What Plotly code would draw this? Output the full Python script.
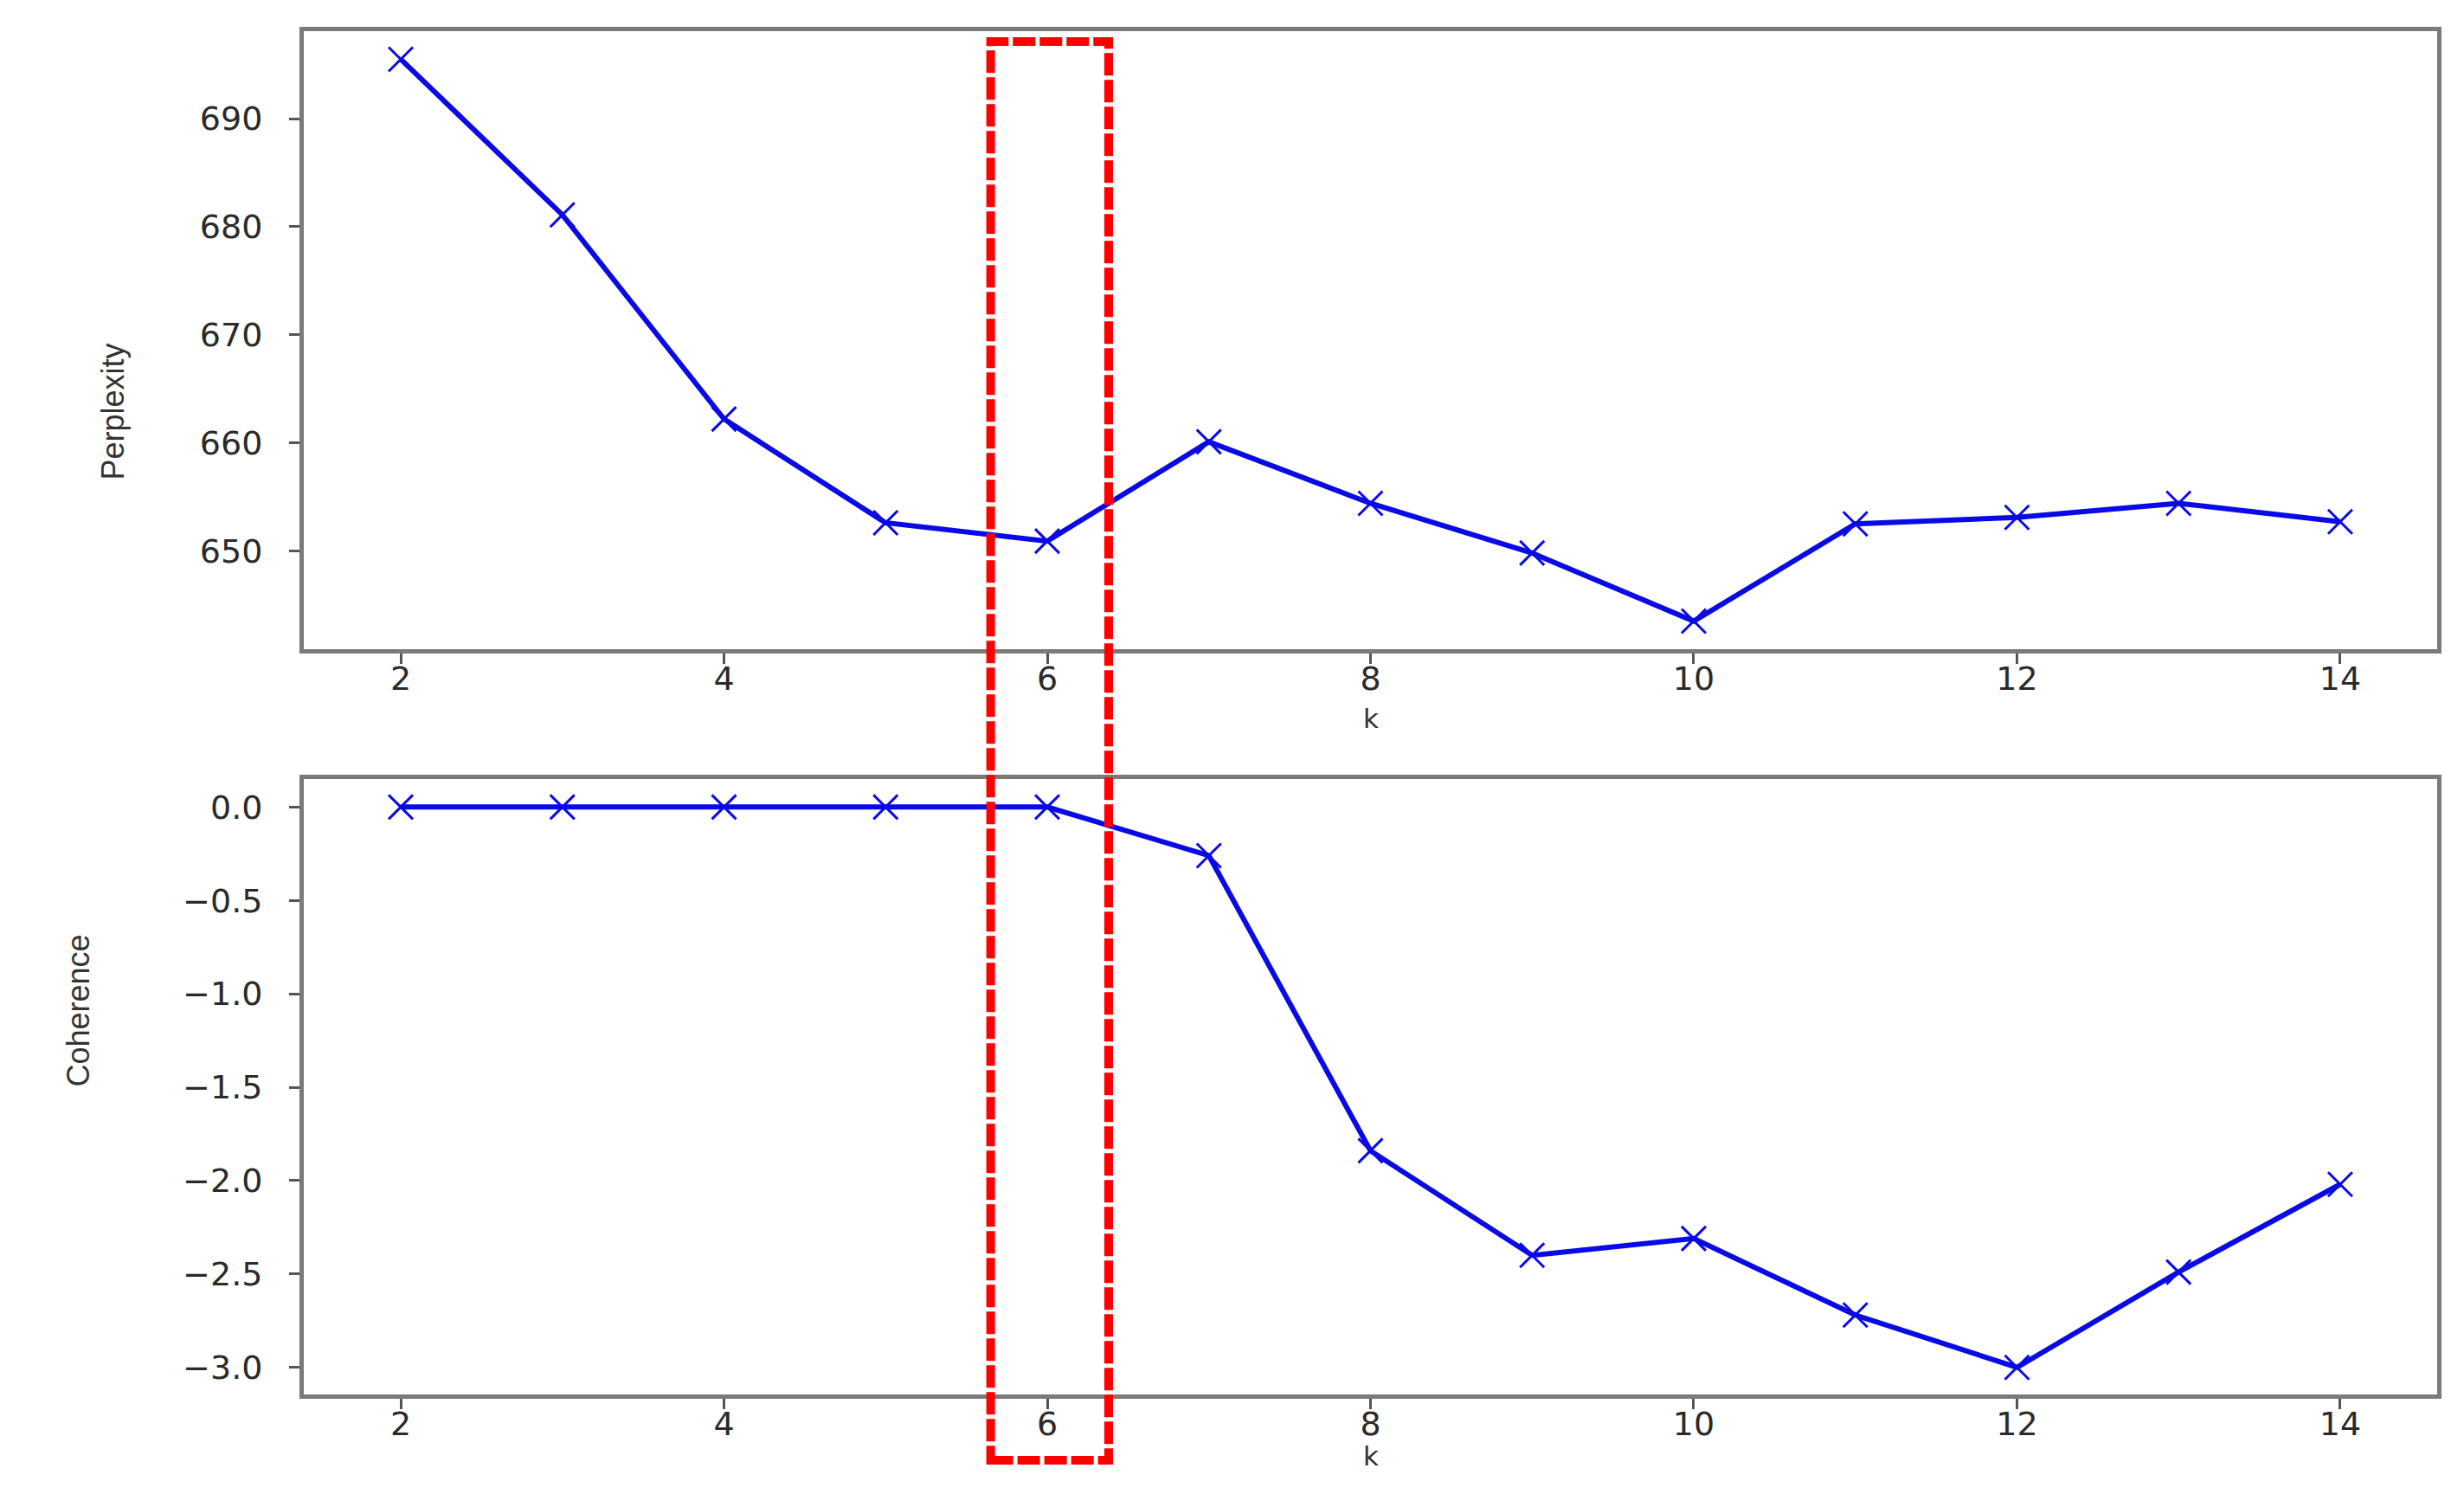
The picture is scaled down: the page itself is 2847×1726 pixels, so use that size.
"""Perplexity and coherence versus number of topics k."""

import plotly.graph_objects as go

# data
k_values = [2, 3, 4, 5, 6, 7, 8, 9, 10, 11, 12, 13, 14]
perplexity = [695.5, 681.1, 662.2, 652.6, 650.9, 660.1, 654.4, 649.8, 643.5, 652.5, 653.1, 654.4, 652.7]
coherence = [0.0, 0.0, 0.0, 0.0, 0.0, -0.26, -1.84, -2.40, -2.31, -2.72, -3.0, -2.49, -2.02]

highlight_k = [5.65, 6.38]  # red dashed box around k=6

W, H = 2847, 1726
PAD = 8  # default body margin of the html page
FW, FH = W - 2 * PAD, H - 2 * PAD
BLUE = '#0a0ae6'
FRAME = '#7a7a7a'
TICK_FONT = dict(family='DejaVu Sans', size=38, color='#2a2a2a')
LABEL_FONT = dict(family='Liberation Sans Narrow, Liberation Sans', size=36, color='#333333')
K_FONT = dict(family='DejaVu Sans', size=31, color='#333333')


def px_x(v):
    return (v - PAD) / FW


def px_y(v):
    return 1 - (v - PAD) / FH


line_style = dict(color=BLUE, width=6)
marker_style = dict(symbol='x-thin', size=28, line=dict(color=BLUE, width=3), color=BLUE)

fig = go.Figure()
fig.add_trace(
    go.Scatter(
        x=k_values, y=perplexity, mode='lines+markers', line=line_style,
        marker=marker_style, xaxis='x', yaxis='y', showlegend=False,
    )
)
fig.add_trace(
    go.Scatter(
        x=k_values, y=coherence, mode='lines+markers', line=line_style,
        marker=marker_style, xaxis='x2', yaxis='y2', showlegend=False,
    )
)

axis_common = dict(
    showgrid=False, zeroline=False, showline=True, linecolor=FRAME, linewidth=5,
    mirror=True, ticks='outside', ticklen=12, tickwidth=3, tickcolor='#555555',
    tickfont=TICK_FONT,
)
x_dom = [px_x(351), px_x(2816)]

fig.update_layout(
    width=FW,
    height=FH,
    margin=dict(l=0, r=0, t=0, b=0),
    paper_bgcolor='white',
    plot_bgcolor='white',
    xaxis=dict(domain=x_dom, anchor='y', range=[1.4, 14.6], tickvals=[2, 4, 6, 8, 10, 12, 14],
               ticklabelstandoff=-16, **axis_common),
    yaxis=dict(domain=[px_y(750), px_y(36)], anchor='x', range=[640.9, 698.1],
               tickvals=[650, 660, 670, 680, 690], ticklabelstandoff=23, **axis_common),
    xaxis2=dict(domain=x_dom, anchor='y2', range=[1.4, 14.6], tickvals=[2, 4, 6, 8, 10, 12, 14],
                ticklabelstandoff=-16, **axis_common),
    yaxis2=dict(domain=[px_y(1611), px_y(900)], anchor='x2', range=[-3.145, 0.15],
                tickvals=[0, -0.5, -1, -1.5, -2, -2.5, -3], tickformat='.1f',
                ticklabelstandoff=23, **axis_common),
)

# axis labels
fig.add_annotation(text='Perplexity', textangle=-90, x=px_x(107), y=px_y(395),
                   xref='paper', yref='paper', showarrow=False, font=LABEL_FONT)
fig.add_annotation(text='Coherence', textangle=-90, x=px_x(67), y=px_y(1258),
                   xref='paper', yref='paper', showarrow=False, font=LABEL_FONT)
fig.add_annotation(text='k', x=0.5, y=px_y(830), xref='x domain', yref='paper',
                   showarrow=False, font=K_FONT)
fig.add_annotation(text='k', x=0.5, y=px_y(1702), xref='x2 domain', yref='paper',
                   showarrow=False, font=K_FONT)

# red dashed highlight box spanning both panels
fig.add_shape(
    type='rect', xref='x', yref='paper',
    x0=highlight_k[0], x1=highlight_k[1], y0=px_y(1687), y1=px_y(48),
    line=dict(color='#ff0000', width=10, dash='26px,5px'),
    fillcolor='rgba(0,0,0,0)',
)

fig.write_html("out.html")
